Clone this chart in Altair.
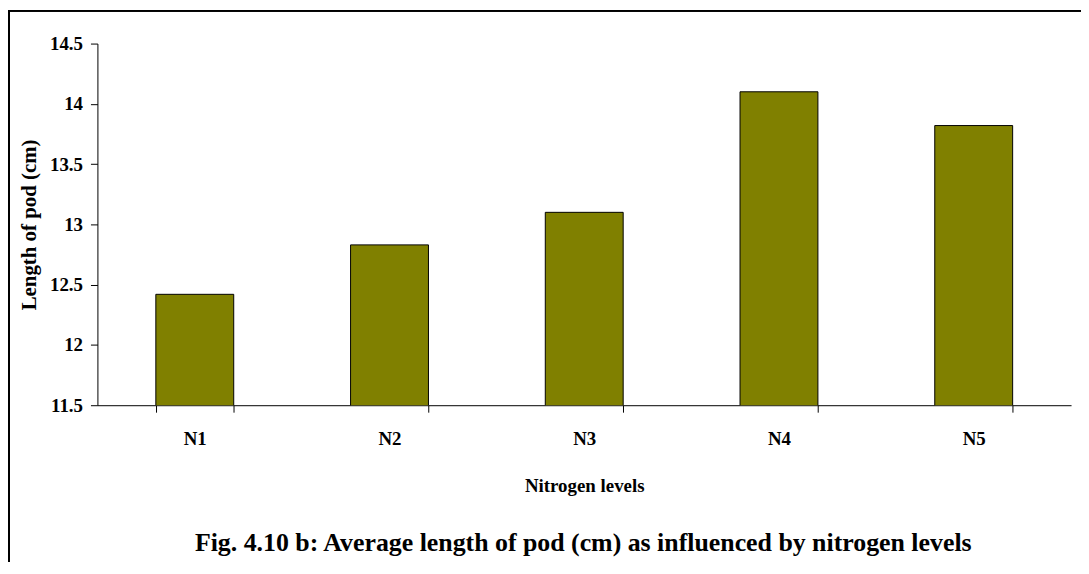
import altair as alt
import pandas as pd

categories = ["N1", "N2", "N3", "N4", "N5"]
values = [12.42, 12.83, 13.10, 14.10, 13.82]
caption = ["Fig. 4.10 b: Average length of pod (cm) as influenced by nitrogen levels"]

df = pd.DataFrame({"level": categories, "length": values})
cap_df = pd.DataFrame({"text": caption})

FONT = "Liberation Serif"

bars = alt.Chart(df).mark_bar(
    color="#808000", stroke="black", strokeWidth=1, clip=True
).encode(
    x=alt.X("level:N", sort=categories,
            scale=alt.Scale(paddingInner=0.6, paddingOuter=0.3),
            axis=alt.Axis(title="Nitrogen levels", labelAngle=0, tickBand="extent",
                          tickSize=7, labelPadding=18, titlePadding=28,
                          labelFontSize=19, titleFontSize=19)),
    y=alt.Y("length:Q",
            scale=alt.Scale(domain=[11.5, 14.5], nice=False, zero=False),
            axis=alt.Axis(title="Length of pod (cm)", values=[11.5, 12, 12.5, 13, 13.5, 14, 14.5],
                          format="~g", tickSize=7, labelPadding=8, titlePadding=10, grid=False,
                          labelFontSize=19, titleFontSize=21)),
)

frame = alt.Chart(df).mark_rect(fill=None, stroke="black", strokeWidth=1.5).encode(
    x=alt.value(-89), x2=alt.value(1200), y=alt.value(-33), y2=alt.value(800)
)

cap = alt.Chart(cap_df).mark_text(
    font=FONT, fontSize=26, fontWeight="bold", color="black", align="center", baseline="middle"
).encode(
    text="text:N", x=alt.value(489), y=alt.value(503)
)

chart = alt.layer(frame, bars, cap).properties(
    width=980, height=364,
    autosize=alt.AutoSizeParams(type="none"),
    padding={"left": 90, "top": 34, "right": 10, "bottom": 156},
    background="white",
).configure_view(stroke=None).configure_axis(
    labelFont=FONT, titleFont=FONT, labelFontWeight="bold", titleFontWeight="bold",
    labelColor="black", titleColor="black", domainColor="black", tickColor="black",
    domainWidth=1, tickWidth=1,
)

chart.save("out.html", embed_options={"renderer": "svg", "actions": False})
